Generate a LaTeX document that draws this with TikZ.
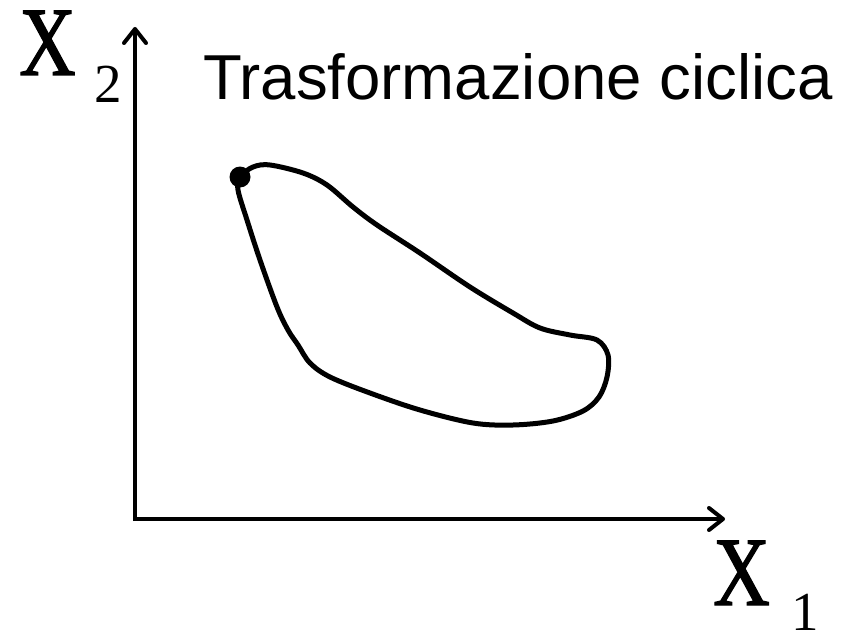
\documentclass[tikz,border=0pt]{standalone}
\usepackage{fontspec}
\setmainfont{Liberation Serif}
\newfontfamily\arialfont{Liberation Sans}
\newfontfamily\xfont[FakeBold=1.5]{Liberation Serif}
\usetikzlibrary{arrows.meta}
\tikzset{
  axis/.style={line width=4pt, -{Straight Barb[length=14pt,width=22pt,line cap=round,line join=round]}},
  loopline/.style={line width=5pt},
  bigx/.style={inner sep=0pt, anchor=base west, font=\xfont\fontsize{98}{98}\selectfont},
  subs/.style={inner sep=0pt, anchor=base west, font=\fontsize{55}{55}\selectfont},
  titletext/.style={inner sep=0pt, anchor=base west, font=\arialfont\fontsize{63.5}{63.5}\selectfont}
}
\begin{document}
\begin{tikzpicture}[x=1pt,y=-1pt]
\useasboundingbox (0,0) rectangle (850,631);
\coordinate (O) at (135,519);
\coordinate (ytip) at (135,27);
\coordinate (xtip) at (725,519);
\draw[axis] ([yshift=-2pt]O) -- (ytip);
\draw[axis] ([xshift=-2pt]O) -- (xtip);
\node[bigx] (X2) at (19,75) {\scalebox{0.8}[1]{X}};
\node[subs] (s2) at (94,103) {2};
\node[bigx] (X1) at (713,605) {\scalebox{0.8}[1]{X}};
\node[subs] (s1) at (791,630) {1};
\node[titletext] (title) at (203,100) {Trasformazione ciclica};
\draw[loopline] plot[smooth cycle, tension=0.55] coordinates {
 (240,177) (253,167) (270,165) (303,173) (327,185) (353,207) (377,225)
 (420,253) (470,287) (513,313) (540,328) (570,335) (597,340) (608,355)
 (607,377) (599,397) (583,411) (553,421) (513,425) (473,423) (420,410)
 (370,393) (330,377) (310,363) (298,345) (288,330) (277,307) (260,260)
 (247,220) (238,190)};
\fill (240,177) circle[radius=10.5];
\end{tikzpicture}
\end{document}
